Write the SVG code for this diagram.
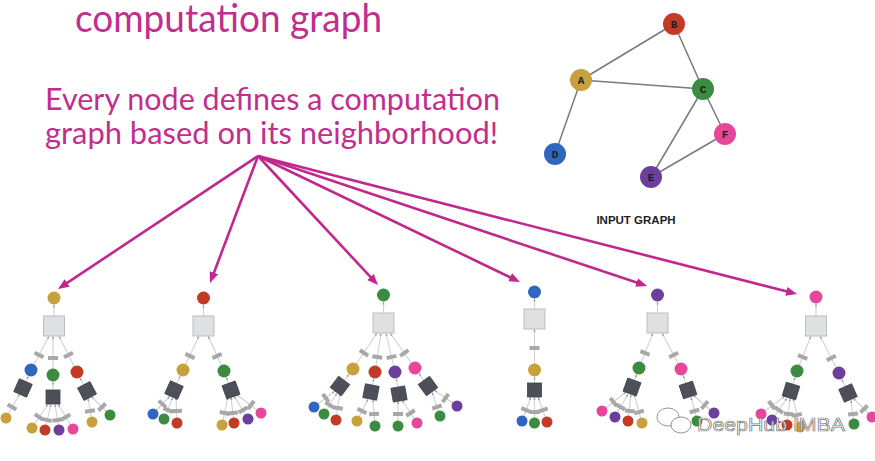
<svg xmlns="http://www.w3.org/2000/svg" xmlns:xlink="http://www.w3.org/1999/xlink" width="875" height="461" viewBox="0 0 875 461">
<style>
.ttl{font-family:Lato,"Open Sans","Liberation Sans",sans-serif;fill:#c12e8e}
.mg{stroke:#c0288e;stroke-width:2.6;fill:none;marker-end:url(#ma)}
.ge{stroke:#7a7a7a;stroke-width:1.5}
.lt{font-family:"Liberation Mono",monospace;font-weight:bold;font-size:11px;fill:#1e1e1e;text-anchor:middle}
.e line{stroke:#d2d2d2;stroke-width:1.1;marker-end:url(#ta)}
.sq{fill:#dfe0e2;stroke:#bdbdbd;stroke-width:1}
.gd{fill:#c6a13d}.rd{fill:#c23b27}.gn{fill:#3b8b40}.bl{fill:#2f66c0}.pu{fill:#6c3f9c}.pk{fill:#e6479a}
</style>
<defs>
<marker id="ma" markerUnits="userSpaceOnUse" markerWidth="12" markerHeight="10" refX="4" refY="4.5" orient="auto"><path d="M0,0 L11,4.5 L0,9 z" fill="#c0288e"/></marker>
<marker id="ta" markerUnits="userSpaceOnUse" markerWidth="3" markerHeight="3" refX="3" refY="1.5" orient="auto"><path d="M0,0.4 L3,1.5 L0,2.6 z" fill="#a0a0a0"/></marker>
<rect id="lb" x="-5" y="-2" width="10" height="4" fill="#a8a8a8"/>
<rect id="dk" x="-7" y="-7" width="14" height="14" fill="#4d5058" stroke="#3d4047" stroke-width="0.8"/>
</defs>
<rect width="875" height="461" fill="#ffffff"/>

<!-- texts -->
<text class="ttl" x="75" y="32" font-size="38" textLength="307" lengthAdjust="spacingAndGlyphs">computation graph</text>
<text class="ttl" x="45" y="110" font-size="30" textLength="455" lengthAdjust="spacingAndGlyphs">Every node defines a computation</text>
<text class="ttl" x="45" y="144" font-size="30" textLength="453" lengthAdjust="spacingAndGlyphs">graph based on its neighborhood!</text>

<!-- input graph -->
<g id="input-graph-edges">
<line class="ge" x1="581" y1="80" x2="674" y2="24"/>
<line class="ge" x1="581" y1="80" x2="703" y2="89"/>
<line class="ge" x1="674" y1="24" x2="703" y2="89"/>
<line class="ge" x1="581" y1="80" x2="555" y2="154"/>
<line class="ge" x1="703" y1="89" x2="651" y2="177"/>
<line class="ge" x1="703" y1="89" x2="725" y2="134"/>
<line class="ge" x1="651" y1="177" x2="725" y2="134"/>
</g>
<g id="node-B"><circle cx="674" cy="24" r="11" class="rd"/><text class="lt" x="674" y="28">B</text></g>
<g id="node-A"><circle cx="581" cy="80" r="11" class="gd"/><text class="lt" x="581" y="84">A</text></g>
<g id="node-C"><circle cx="703" cy="89" r="11" class="gn"/><text class="lt" x="703" y="93">C</text></g>
<g id="node-D"><circle cx="555" cy="154" r="11" class="bl"/><text class="lt" x="555" y="158">D</text></g>
<g id="node-F"><circle cx="725" cy="134" r="11" class="pk"/><text class="lt" x="725" y="138">F</text></g>
<g id="node-E"><circle cx="651" cy="177" r="11" class="pu"/><text class="lt" x="651" y="181">E</text></g>
<text x="636" y="224" font-family="'Liberation Sans',Arial,sans-serif" font-weight="bold" font-size="11.5" fill="#1e1e1e" text-anchor="middle">INPUT GRAPH</text>

<!-- magenta arrows -->
<g id="connectors">
<line class="mg" x1="258" y1="156" x2="63.8" y2="285.1"/>
<line class="mg" x1="258" y1="156" x2="212.5" y2="276.5"/>
<line class="mg" x1="258" y1="156" x2="373.2" y2="279.9"/>
<line class="mg" x1="258" y1="156" x2="513.7" y2="279"/>
<line class="mg" x1="258" y1="156" x2="640.4" y2="283.8"/>
<line class="mg" x1="258" y1="156" x2="790.2" y2="292.3"/>
</g>

<!-- tree A -->
<g id="tree-A">
<g class="e">
<line x1="54" y1="316" x2="54" y2="304.5"/>
<line x1="31" y1="370" x2="49" y2="336"/>
<line x1="53" y1="375" x2="53" y2="336"/>
<line x1="77" y1="372" x2="59" y2="336"/>
<line x1="23" y1="388" x2="28.4" y2="375.9"/>
<line x1="53" y1="397" x2="53" y2="381.5"/>
<line x1="87" y1="391" x2="80" y2="377.7"/>
<line x1="6" y1="418" x2="19.6" y2="394"/>
<line x1="32" y1="428" x2="48" y2="404"/>
<line x1="45" y1="430" x2="51" y2="404"/>
<line x1="59" y1="430" x2="55" y2="404"/>
<line x1="73" y1="429" x2="58" y2="404"/>
<line x1="92" y1="422" x2="88" y2="398"/>
<line x1="110" y1="415" x2="91" y2="396"/>
</g>
<use href="#lb" transform="translate(39,355) rotate(28)"/>
<use href="#lb" transform="translate(53,358)"/>
<use href="#lb" transform="translate(68.5,355) rotate(-27)"/>
<use href="#lb" transform="translate(12,407) rotate(29.5)"/>
<use href="#lb" transform="translate(39,417) rotate(34)"/>
<use href="#lb" transform="translate(47,420) rotate(13)"/>
<use href="#lb" transform="translate(57.5,420) rotate(-9)"/>
<use href="#lb" transform="translate(66,417) rotate(-31)"/>
<use href="#lb" transform="translate(90,411) rotate(-9.5)"/>
<use href="#lb" transform="translate(102,407) rotate(-45)"/>
<circle class="gd" cx="54" cy="298" r="6.5"/>
<rect class="sq" x="43.5" y="316" width="21" height="20"/>
<circle class="bl" cx="31" cy="370" r="6.5"/>
<circle class="gn" cx="53" cy="375" r="6.5"/>
<circle class="rd" cx="77" cy="372" r="6.5"/>
<use href="#dk" transform="translate(23,388) rotate(24)"/>
<use href="#dk" transform="translate(53,397)"/>
<use href="#dk" transform="translate(87,391) rotate(-28)"/>
<circle class="gd" cx="6" cy="418" r="5.5"/>
<circle class="gd" cx="32" cy="428" r="5.5"/>
<circle class="rd" cx="45" cy="430" r="5.5"/>
<circle class="pu" cx="59" cy="430" r="5.5"/>
<circle class="pk" cx="73" cy="429" r="5.5"/>
<circle class="gd" cx="92" cy="422" r="5.5"/>
<circle class="gn" cx="110" cy="415" r="5.5"/>
</g>

<!-- tree B -->
<g id="tree-B">
<g class="e">
<line x1="203.5" y1="316" x2="203.5" y2="304.5"/>
<line x1="183" y1="370" x2="199" y2="336"/>
<line x1="224" y1="371" x2="208" y2="336"/>
<line x1="174" y1="390" x2="180.3" y2="375.9"/>
<line x1="231" y1="390" x2="226.3" y2="377.1"/>
<line x1="153" y1="414" x2="170" y2="396"/>
<line x1="164" y1="419" x2="173" y2="397"/>
<line x1="177" y1="423" x2="176" y2="397"/>
<line x1="222" y1="425" x2="228" y2="397"/>
<line x1="234" y1="423" x2="231" y2="397"/>
<line x1="248" y1="419" x2="234" y2="396"/>
<line x1="261" y1="413" x2="236" y2="394"/>
</g>
<use href="#lb" transform="translate(190,356) rotate(25)"/>
<use href="#lb" transform="translate(217,356) rotate(-24.6)"/>
<use href="#lb" transform="translate(162.4,404) rotate(43)"/>
<use href="#lb" transform="translate(168,410) rotate(22)"/>
<use href="#lb" transform="translate(177,411) rotate(-2)"/>
<use href="#lb" transform="translate(224.6,413) rotate(12)"/>
<use href="#lb" transform="translate(233,413) rotate(-6.6)"/>
<use href="#lb" transform="translate(243,410) rotate(-31)"/>
<use href="#lb" transform="translate(251,405) rotate(-53)"/>
<circle class="rd" cx="203.5" cy="298" r="6.5"/>
<rect class="sq" x="193" y="316" width="21" height="20"/>
<circle class="gd" cx="183" cy="370" r="6.5"/>
<circle class="gn" cx="224" cy="371" r="6.5"/>
<use href="#dk" transform="translate(174,390) rotate(24)"/>
<use href="#dk" transform="translate(231,390) rotate(-20)"/>
<circle class="bl" cx="153" cy="414" r="5.5"/>
<circle class="gn" cx="164" cy="419" r="5.5"/>
<circle class="rd" cx="177" cy="423" r="5.5"/>
<circle class="gd" cx="222" cy="425" r="5.5"/>
<circle class="rd" cx="234" cy="423" r="5.5"/>
<circle class="pu" cx="248" cy="419" r="5.5"/>
<circle class="pk" cx="261" cy="413" r="5.5"/>
</g>

<!-- tree C -->
<g id="tree-C">
<g class="e">
<line x1="383.5" y1="313" x2="383.5" y2="301.5"/>
<line x1="353" y1="369" x2="377" y2="333"/>
<line x1="375" y1="372" x2="381" y2="333"/>
<line x1="395" y1="372" x2="386" y2="333"/>
<line x1="415" y1="368" x2="390" y2="333"/>
<line x1="340" y1="386" x2="349" y2="374.2"/>
<line x1="371" y1="392" x2="373.7" y2="378.4"/>
<line x1="399" y1="394" x2="396.2" y2="378.4"/>
<line x1="428" y1="386" x2="418.8" y2="373.3"/>
<line x1="314" y1="407" x2="335" y2="391"/>
<line x1="324" y1="414" x2="337" y2="393"/>
<line x1="336" y1="420" x2="340" y2="393"/>
<line x1="357" y1="421" x2="368" y2="399"/>
<line x1="375" y1="426" x2="373" y2="399"/>
<line x1="398" y1="426" x2="398" y2="401"/>
<line x1="417" y1="423" x2="402" y2="400"/>
<line x1="440" y1="416" x2="432" y2="392"/>
<line x1="457" y1="406" x2="434" y2="390"/>
</g>
<use href="#lb" transform="translate(364,353) rotate(33.7)"/>
<use href="#lb" transform="translate(377.3,357) rotate(8.7)"/>
<use href="#lb" transform="translate(391.5,357) rotate(-13)"/>
<use href="#lb" transform="translate(404.3,353) rotate(-35.5)"/>
<use href="#lb" transform="translate(325.8,398) rotate(52.7)"/>
<use href="#lb" transform="translate(329.6,405) rotate(31.8)"/>
<use href="#lb" transform="translate(337.8,408) rotate(8.4)"/>
<use href="#lb" transform="translate(362,411) rotate(26.6)"/>
<use href="#lb" transform="translate(374,414) rotate(-4)"/>
<use href="#lb" transform="translate(398,414)"/>
<use href="#lb" transform="translate(410.5,413) rotate(-33)"/>
<use href="#lb" transform="translate(437,407) rotate(-18.4)"/>
<use href="#lb" transform="translate(445.5,398) rotate(-55)"/>
<circle class="gn" cx="383.5" cy="295" r="6.5"/>
<rect class="sq" x="373" y="313" width="21" height="20"/>
<circle class="gd" cx="353" cy="369" r="6.5"/>
<circle class="rd" cx="375" cy="372" r="6.5"/>
<circle class="pu" cx="395" cy="372" r="6.5"/>
<circle class="pk" cx="415" cy="368" r="6.5"/>
<use href="#dk" transform="translate(340,386) rotate(37)"/>
<use href="#dk" transform="translate(371,392) rotate(11)"/>
<use href="#dk" transform="translate(399,394) rotate(-10)"/>
<use href="#dk" transform="translate(428,386) rotate(-36)"/>
<circle class="bl" cx="314" cy="407" r="5.5"/>
<circle class="gn" cx="324" cy="414" r="5.5"/>
<circle class="rd" cx="336" cy="420" r="5.5"/>
<circle class="gd" cx="357" cy="421" r="5.5"/>
<circle class="gn" cx="375" cy="426" r="5.5"/>
<circle class="gn" cx="398" cy="426" r="5.5"/>
<circle class="pk" cx="417" cy="423" r="5.5"/>
<circle class="gn" cx="440" cy="416" r="5.5"/>
<circle class="pu" cx="457" cy="406" r="5.5"/>
</g>

<!-- tree D -->
<g id="tree-D">
<g class="e">
<line x1="534.5" y1="309" x2="534.5" y2="298.5"/>
<line x1="534.5" y1="370" x2="534.5" y2="329"/>
<line x1="534.5" y1="390" x2="534.5" y2="376.5"/>
<line x1="522" y1="421" x2="531" y2="397"/>
<line x1="534.5" y1="423" x2="534.5" y2="397"/>
<line x1="547" y1="422" x2="538" y2="397"/>
</g>
<use href="#lb" transform="translate(534.5,348)"/>
<use href="#lb" transform="translate(526,410) rotate(20.6)"/>
<use href="#lb" transform="translate(534.5,412)"/>
<use href="#lb" transform="translate(543,410) rotate(-20)"/>
<circle class="bl" cx="534.5" cy="292" r="6.5"/>
<rect class="sq" x="524" y="309" width="21" height="20"/>
<circle class="gd" cx="534.5" cy="370" r="6.5"/>
<use href="#dk" transform="translate(534.5,390)"/>
<circle class="bl" cx="522" cy="421" r="5.5"/>
<circle class="gn" cx="534.5" cy="423" r="5.5"/>
<circle class="rd" cx="547" cy="422" r="5.5"/>
</g>

<!-- tree E -->
<g id="tree-E">
<g class="e">
<line x1="657.5" y1="313" x2="657.5" y2="301.5"/>
<line x1="639" y1="368" x2="653" y2="333"/>
<line x1="681" y1="369" x2="662" y2="333"/>
<line x1="632" y1="387" x2="636.7" y2="374.1"/>
<line x1="688" y1="390" x2="683.1" y2="375.2"/>
<line x1="602" y1="411" x2="626" y2="392"/>
<line x1="615" y1="417" x2="628" y2="394"/>
<line x1="628" y1="421" x2="631" y2="394"/>
<line x1="642" y1="423" x2="634" y2="394"/>
<line x1="697" y1="421" x2="691" y2="397"/>
<line x1="714" y1="413" x2="693" y2="395"/>
</g>
<use href="#lb" transform="translate(645,353) rotate(21.8)"/>
<use href="#lb" transform="translate(673.6,355) rotate(-27.8)"/>
<use href="#lb" transform="translate(613.4,402) rotate(51.6)"/>
<use href="#lb" transform="translate(620.6,407) rotate(29.5)"/>
<use href="#lb" transform="translate(630,411) rotate(6.3)"/>
<use href="#lb" transform="translate(639,412) rotate(-15.4)"/>
<use href="#lb" transform="translate(694.5,411) rotate(-14)"/>
<use href="#lb" transform="translate(704.7,405) rotate(-49.4)"/>
<circle class="pu" cx="657.5" cy="295" r="6.5"/>
<rect class="sq" x="647" y="313" width="21" height="20"/>
<circle class="gn" cx="639" cy="368" r="6.5"/>
<circle class="pk" cx="681" cy="369" r="6.5"/>
<use href="#dk" transform="translate(632,387) rotate(20)"/>
<use href="#dk" transform="translate(688,390) rotate(-18)"/>
<circle class="pk" cx="602" cy="411" r="5.5"/>
<circle class="pu" cx="615" cy="417" r="5.5"/>
<circle class="rd" cx="628" cy="421" r="5.5"/>
<circle class="gd" cx="642" cy="423" r="5.5"/>
<circle class="gn" cx="697" cy="421" r="5.5"/>
<circle class="pu" cx="714" cy="413" r="5.5"/>
</g>

<!-- tree F -->
<g id="tree-F">
<g class="e">
<line x1="816" y1="316" x2="816" y2="303.5"/>
<line x1="797" y1="371" x2="811" y2="336"/>
<line x1="839" y1="373" x2="820" y2="336"/>
<line x1="791" y1="391" x2="795.1" y2="377.2"/>
<line x1="848" y1="393" x2="841.7" y2="378.9"/>
<line x1="761" y1="414" x2="785" y2="396"/>
<line x1="772" y1="420" x2="787" y2="398"/>
<line x1="787" y1="425" x2="790" y2="398"/>
<line x1="800" y1="427" x2="793" y2="398"/>
<line x1="854" y1="424" x2="851" y2="400"/>
<line x1="872" y1="417" x2="853" y2="398"/>
</g>
<use href="#lb" transform="translate(802.6,357) rotate(21.8)"/>
<use href="#lb" transform="translate(831.3,358) rotate(-27)"/>
<use href="#lb" transform="translate(771.7,405) rotate(53)"/>
<use href="#lb" transform="translate(778.8,410) rotate(34)"/>
<use href="#lb" transform="translate(788.7,414) rotate(6.3)"/>
<use href="#lb" transform="translate(797,415) rotate(-13.6)"/>
<use href="#lb" transform="translate(853,414) rotate(-7)"/>
<use href="#lb" transform="translate(864,409) rotate(-45)"/>
<circle class="pk" cx="816" cy="297" r="6.5"/>
<rect class="sq" x="805.5" y="316" width="21" height="20"/>
<circle class="gn" cx="797" cy="371" r="6.5"/>
<circle class="pu" cx="839" cy="373" r="6.5"/>
<use href="#dk" transform="translate(791,391) rotate(17)"/>
<use href="#dk" transform="translate(848,393) rotate(-24)"/>
<circle class="pk" cx="761" cy="414" r="5.5"/>
<circle class="pu" cx="772" cy="420" r="5.5"/>
<circle class="rd" cx="787" cy="425" r="5.5"/>
<circle class="gd" cx="800" cy="427" r="5.5"/>
<circle class="gn" cx="854" cy="424" r="5.5"/>
<circle class="pk" cx="872" cy="417" r="5.5"/>
</g>

<!-- watermark -->
<g id="watermark" opacity="0.9">
<ellipse cx="668" cy="417" rx="11" ry="9" fill="#ffffff" stroke="#8a8a8a" stroke-width="1"/>
<ellipse cx="681" cy="425" rx="10" ry="8" fill="#ffffff" stroke="#8a8a8a" stroke-width="1"/>
<text x="697" y="431" font-family="'Liberation Sans',Arial,sans-serif" font-size="19" fill="#ffffff" stroke="#6a6a6a" stroke-width="0.7" textLength="148" lengthAdjust="spacingAndGlyphs">DeepHub IMBA</text>
</g>
</svg>
